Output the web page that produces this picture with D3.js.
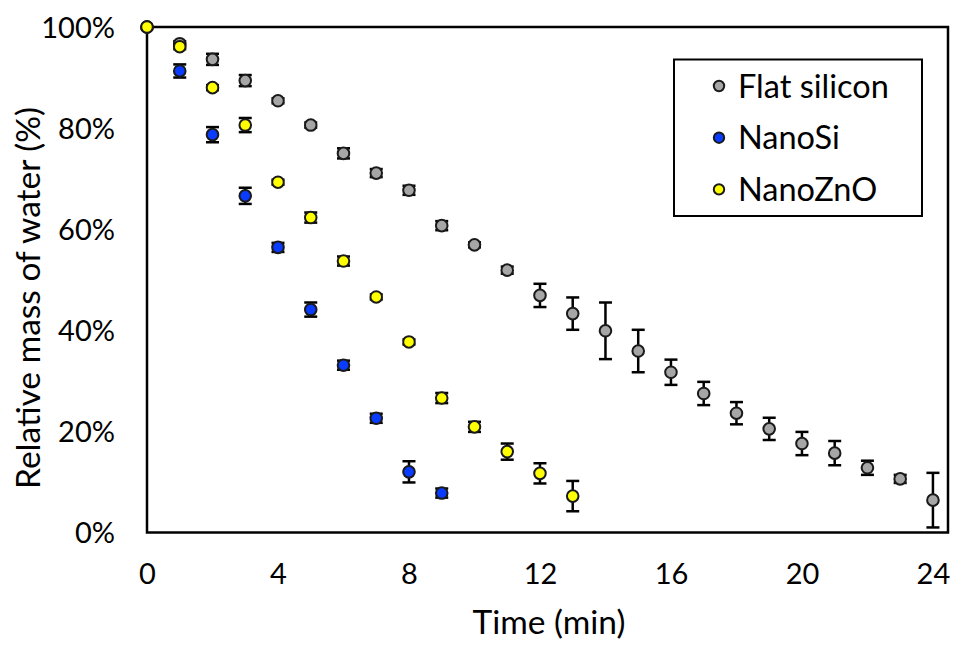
<!DOCTYPE html>
<html>
<head>
<meta charset="utf-8">
<script src="https://cdn.jsdelivr.net/npm/d3@7"></script>
<style>
  body { margin: 0; background: #fff; }
  svg text { font-family: Lato, "Open Sans", sans-serif; fill: #000; }
</style>
</head>
<body>
<svg id="chart" width="955" height="645"></svg>
<script>
// minutes, relative mass of water (%) and error (+/- %)
const flatTime = [0, 1, 2, 3, 4, 5, 6, 7, 8, 9, 10, 11, 12, 13, 14, 15, 16, 17, 18, 19, 20, 21, 22, 23, 24];
const flatMass = [100, 96.7, 93.6, 89.4, 85.4, 80.6, 75.0, 71.1, 67.7, 60.7, 56.9, 51.9, 46.9, 43.3, 39.9, 35.9, 31.7, 27.5, 23.6, 20.5, 17.6, 15.7, 12.8, 10.6, 6.4];
const flatErr = [0, 0.5, 1.1, 1.1, 0.5, 0.5, 1.0, 0.8, 0.9, 0.9, 0.5, 0.7, 2.3, 3.2, 5.6, 4.2, 2.5, 2.3, 2.2, 2.2, 2.3, 2.4, 1.4, 0.8, 5.4];

const siTime = [0, 1, 2, 3, 4, 5, 6, 7, 8, 9];
const siMass = [100, 91.3, 78.7, 66.6, 56.4, 44.1, 33.1, 22.6, 12.0, 7.8];
const siErr = [0, 1.3, 1.5, 1.6, 0.9, 1.4, 0.9, 0.9, 2.1, 0.9];

const znoTime = [0, 1, 2, 3, 4, 5, 6, 7, 8, 9, 10, 11, 12, 13];
const znoMass = [100, 96.1, 88.0, 80.6, 69.3, 62.3, 53.7, 46.6, 37.7, 26.6, 20.9, 16.0, 11.7, 7.2];
const znoErr = [0, 0.5, 0.5, 1.4, 0.5, 1.0, 0.9, 0.5, 0.5, 1.0, 1.0, 1.6, 2.0, 3.0];

const seriesNames = ["Flat silicon", "NanoSi", "NanoZnO"];
const xTicks = [0, 4, 8, 12, 16, 20, 24];
const yTicks = [0, 20, 40, 60, 80, 100];

const colors = ["#a6a6a6", "#0a3cff", "#ffff00"];

const series = [
    {name: seriesNames[0], t: flatTime, m: flatMass, e: flatErr},
    {name: seriesNames[1], t: siTime, m: siMass, e: siErr},
    {name: seriesNames[2], t: znoTime, m: znoMass, e: znoErr}
].map((s, k) => ({
    name: s.name,
    color: colors[k],
    values: s.t.map((t, i) => ({t: t, m: s.m[i], e: s.e[i]}))
}));

const svg = d3.select("#chart"),
    plot = {left: 147, right: 948, top: 27, bottom: 532.5};

const x = d3.scaleLinear().domain([0, 24.46]).range([plot.left, plot.right]);
const y = d3.scaleLinear().domain([0, 100]).range([plot.bottom, plot.top]);

// axes (labels only, Excel style)
svg.append("g")
    .attr("class", "y-axis")
    .attr("transform", "translate(" + plot.left + ",0)")
    .call(d3.axisLeft(y).tickValues(yTicks).tickSize(0).tickPadding(32).tickFormat(d => d + "%"))
    .call(g => g.select(".domain").remove())
    .selectAll("text")
    .attr("font-family", "Lato")
    .attr("font-size", 29)
    .attr("dy", "0.36em");

svg.append("g")
    .attr("class", "x-axis")
    .attr("transform", "translate(0," + plot.bottom + ")")
    .call(d3.axisBottom(x).tickValues(xTicks).tickSize(0).tickPadding(31).tickFormat(d3.format("d")))
    .call(g => g.select(".domain").remove())
    .selectAll("text")
    .attr("font-family", "Lato")
    .attr("font-size", 29);

// frame
svg.append("rect")
    .attr("x", plot.left)
    .attr("y", plot.top)
    .attr("width", plot.right - plot.left)
    .attr("height", plot.bottom - plot.top)
    .attr("fill", "none")
    .attr("stroke", "#000")
    .attr("stroke-width", 2.5);

// axis titles
svg.append("text")
    .attr("x", 549)
    .attr("y", 634)
    .attr("text-anchor", "middle")
    .attr("font-size", 33.5)
    .text("Time (min)");

svg.append("text")
    .attr("transform", "translate(40,298) rotate(-90)")
    .attr("text-anchor", "middle")
    .attr("font-size", 33.5)
    .text("Relative mass of water (%)");

// series: error bars then markers
const capW = 6.5;
series.forEach(s => {
    const g = svg.append("g").attr("class", "series");

    const err = g.selectAll(".err")
        .data(s.values.filter(d => d.e > 0))
        .join("g")
        .attr("class", "err")
        .attr("stroke", "#000")
        .attr("stroke-width", 2.5);

    err.append("line")
        .attr("x1", d => x(d.t)).attr("x2", d => x(d.t))
        .attr("y1", d => y(d.m - d.e)).attr("y2", d => y(d.m + d.e));
    err.append("line")
        .attr("x1", d => x(d.t) - capW).attr("x2", d => x(d.t) + capW)
        .attr("y1", d => y(d.m - d.e)).attr("y2", d => y(d.m - d.e));
    err.append("line")
        .attr("x1", d => x(d.t) - capW).attr("x2", d => x(d.t) + capW)
        .attr("y1", d => y(d.m + d.e)).attr("y2", d => y(d.m + d.e));

    g.selectAll("circle")
        .data(s.values)
        .join("circle")
        .attr("cx", d => x(d.t))
        .attr("cy", d => y(d.m))
        .attr("r", 5.8)
        .attr("fill", s.color)
        .attr("stroke", "#1a1a1a")
        .attr("stroke-width", 2);
});

// legend
const legend = svg.append("g").attr("class", "legend");
legend.append("rect")
    .attr("x", 674)
    .attr("y", 59.5)
    .attr("width", 248)
    .attr("height", 156.5)
    .attr("fill", "#fff")
    .attr("stroke", "#000")
    .attr("stroke-width", 2);

const item = legend.selectAll(".item")
    .data(series)
    .join("g")
    .attr("class", "item")
    .attr("transform", (d, i) => "translate(719," + (86 + i * 51.7) + ")");

item.append("circle")
    .attr("r", 5.2)
    .attr("fill", d => d.color)
    .attr("stroke", "#1a1a1a")
    .attr("stroke-width", 2);

item.append("text")
    .attr("x", 19)
    .attr("dy", "0.36em")
    .attr("font-size", 32.5)
    .text(d => d.name);
</script>
</body>
</html>
